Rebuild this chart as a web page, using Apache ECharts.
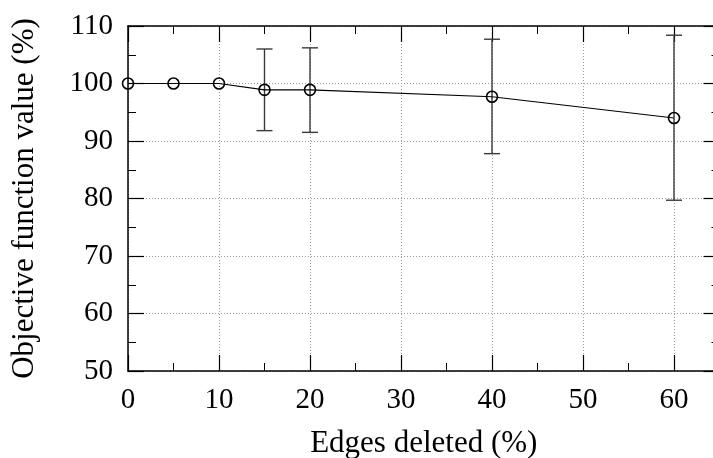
<!DOCTYPE html>
<html>
<head>
<meta charset="utf-8">
<script src="https://cdn.jsdelivr.net/npm/echarts@6/dist/echarts.min.js"></script>
<style>
  html, body { margin: 0; padding: 0; background: #fff; overflow: hidden; }
  #chart { width: 713px; height: 458px; }
</style>
</head>
<body>
<div id="chart"></div>
<script>
// Share of edges removed (%) and the resulting objective value (% of baseline)
const edgesDeleted = [0, 5, 10, 15, 20, 40, 60];
const objectiveMean = [100, 100, 100, 98.9, 98.9, 97.7, 94.0];
// Error bar extents (null where no bar is drawn)
const errorLow = [null, null, null, 91.8, 91.5, 87.8, 79.7];
const errorHigh = [null, null, null, 106.0, 106.2, 107.7, 108.4];

const xTicks = [0, 10, 20, 30, 40, 50, 60];
const yTicks = [50, 60, 70, 80, 90, 100, 110];

const FONT = '"Liberation Serif", "DejaVu Serif", serif';

const meanPoints = edgesDeleted.map((x, i) => [x, objectiveMean[i]]);
const errorData = edgesDeleted
  .map((x, i) => [x, errorLow[i], errorHigh[i]])
  .filter(d => d[1] != null);

const chart = echarts.init(document.getElementById('chart'), null, { renderer: 'canvas' });

const tickCommon = {
  axisTick: { show: true, inside: true, length: 16, lineStyle: { color: '#000', width: 1.2 } },
  minorTick: { show: true, splitNumber: 2, length: 8, lineStyle: { color: '#000', width: 1 } },
  axisLine: { show: true, onZero: false, lineStyle: { color: '#000', width: 1.5 } }
};

const gridLine = { show: true, lineStyle: { color: '#999', type: [1, 2], width: 1 } };

chart.setOption({
  animation: false,
  backgroundColor: '#fff',
  // plot area runs slightly past the right edge of the canvas
  grid: {
    left: 128, top: 26, width: 591.5, height: 345,
    containLabel: false, outerBoundsMode: 'none'
  },
  xAxis: [
    Object.assign({
      type: 'value', min: 0, max: 65, interval: 10, position: 'bottom',
      name: 'Edges deleted (%)', nameLocation: 'middle', nameGap: 57,
      nameTextStyle: { fontFamily: FONT, fontSize: 31, color: '#000' },
      axisLabel: {
        fontFamily: FONT, fontSize: 29, color: '#000', margin: 15,
        customValues: xTicks, formatter: v => String(v)
      },
      splitLine: gridLine
    }, tickCommon),
    Object.assign({
      type: 'value', min: 0, max: 65, interval: 10, position: 'top',
      axisLabel: { show: false }, splitLine: { show: false }
    }, tickCommon)
  ],
  yAxis: [
    Object.assign({
      type: 'value', min: 50, max: 110, interval: 10, position: 'left',
      name: 'Objective function value (%)', nameLocation: 'middle', nameGap: 88,
      nameTextStyle: { fontFamily: FONT, fontSize: 31, color: '#000' },
      axisLabel: {
        fontFamily: FONT, fontSize: 29, color: '#000', margin: 15,
        customValues: yTicks, formatter: v => String(v)
      },
      splitLine: gridLine
    }, tickCommon),
    Object.assign({
      type: 'value', min: 50, max: 110, interval: 10, position: 'right',
      axisLabel: { show: false }, splitLine: { show: false }
    }, tickCommon)
  ],
  series: [
    {
      type: 'custom',
      name: 'range',
      xAxisIndex: 0, yAxisIndex: 0,
      data: errorData,
      z: 2,
      renderItem: function (params, api) {
        const x = api.value(0);
        const lo = api.coord([x, api.value(1)]);
        const hi = api.coord([x, api.value(2)]);
        const cap = 8;
        const style = { stroke: '#3a3a3a', lineWidth: 1.4 };
        return {
          type: 'group',
          children: [
            { type: 'line', shape: { x1: lo[0], y1: lo[1], x2: hi[0], y2: hi[1] }, style },
            { type: 'line', shape: { x1: lo[0] - cap, y1: lo[1], x2: lo[0] + cap, y2: lo[1] }, style },
            { type: 'line', shape: { x1: hi[0] - cap, y1: hi[1], x2: hi[0] + cap, y2: hi[1] }, style }
          ]
        };
      }
    },
    {
      type: 'line',
      name: 'mean',
      xAxisIndex: 0, yAxisIndex: 0,
      data: meanPoints,
      z: 3,
      symbol: 'circle',
      symbolSize: 11,
      showAllSymbol: true,
      lineStyle: { color: '#000', width: 1.2 },
      itemStyle: { color: 'rgba(0,0,0,0)', borderColor: '#000', borderWidth: 1.6 }
    }
  ]
});
</script>
</body>
</html>
